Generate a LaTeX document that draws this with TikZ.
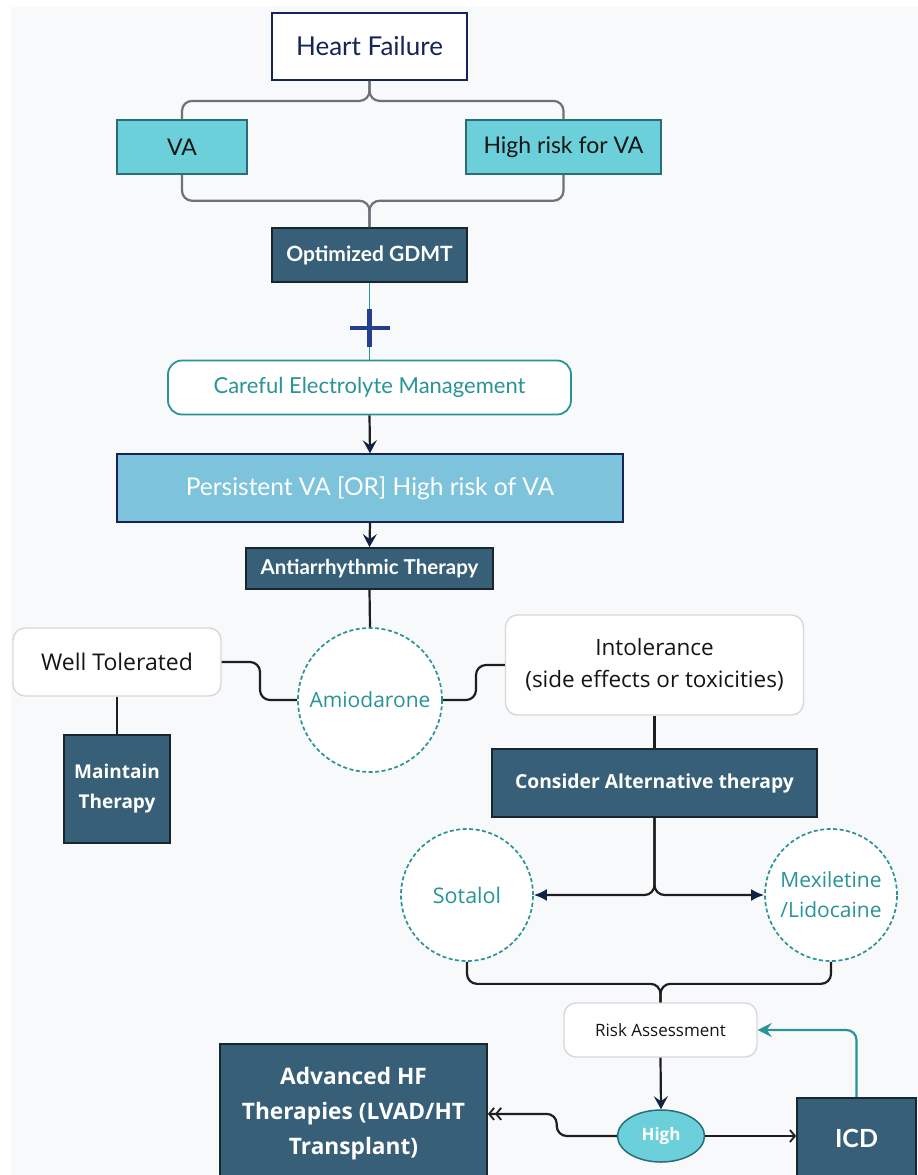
\documentclass[tikz,border=0pt]{standalone}
\usepackage{fontspec}
\setmainfont{Lato}
\newfontfamily\osans{Open Sans}
\usetikzlibrary{arrows.meta,shapes.geometric}
\definecolor{bg}{HTML}{F8F9FB}
\definecolor{navy}{HTML}{16245A}
\definecolor{turq}{HTML}{6CD0DA}
\definecolor{turqdk}{HTML}{2B6C7A}
\definecolor{slate}{HTML}{375F77}
\definecolor{slatedk}{HTML}{1A262E}
\definecolor{lblue}{HTML}{7EC3DC}
\definecolor{tealc}{HTML}{2A9396}
\definecolor{plusc}{HTML}{243F8E}
\definecolor{linegray}{HTML}{6E7178}
\definecolor{lineblk}{HTML}{1E1E1E}
\definecolor{arrnavy}{HTML}{0F2444}
\definecolor{boxgray}{HTML}{D8D8DB}
\definecolor{txtblk}{HTML}{151515}
\newcommand{\fs}[2]{\fontsize{#1}{#2}\selectfont}
\begin{document}
\begin{tikzpicture}[x=1pt,y=-1pt,
  base/.style={inner sep=0pt, align=center},
  hfbox/.style={base, draw=navy, fill=white, line width=1.8pt, text=navy, font=\fs{26}{30}},
  turqbox/.style={base, fill=turq, draw=turqdk, line width=1.5pt, text=txtblk, font=\fs{23}{27}},
  slatebox/.style={base, fill=slate, draw=slatedk, line width=1.8pt, text=white},
  lightbox/.style={base, fill=lblue, draw=navy, line width=1.5pt, text=white, font=\fs{24.5}{28}},
  graybox/.style={base, fill=white, draw=boxgray, line width=1.4pt, rounded corners=12pt, text=txtblk},
  tealbox/.style={base, fill=white, draw=tealc, line width=1.8pt, rounded corners=14pt, text=tealc, font=\fs{22}{26}},
  dcircle/.style={base, circle, draw=tealc, fill=white, line width=1.7pt, dash pattern=on 4pt off 2.5pt, text=tealc, font=\osans\fs{21}{30}},
  graycon/.style={draw=linegray, line width=2.2pt, rounded corners=10pt},
  conn/.style={draw=lineblk, line width=2.2pt, rounded corners=10pt},
  navyarrow/.style={conn, -{Stealth[length=13pt,width=14pt,inset=5pt,color=arrnavy]}},
  filledarrow/.style={conn, -{Latex[length=13pt,width=12pt,color=arrnavy]}},
  barb/.style={conn, -{Straight Barb[length=5pt,width=12pt,line width=1.8pt]}},
  dblbarb/.style={conn, -{Straight Barb[length=5pt,width=12pt,line width=1.8pt]Straight Barb[length=5pt,width=12pt,line width=1.8pt]}},
  tealarrow/.style={draw=tealc, line width=2.2pt, rounded corners=10pt, -{Stealth[length=14pt,width=14pt,inset=5pt]}}
]
\clip (0,0) rectangle (918,1175);
\fill[white] (0,0) rectangle (918,1175);
\fill[bg] (11,7) rectangle (918,1175);

% nodes
\node[hfbox, minimum width=195pt, minimum height=67pt] (hf) at (369.5,46.5) {Heart Failure};
\node[turqbox, minimum width=130pt, minimum height=54pt] (va) at (182,147) {VA};
\node[turqbox, minimum width=195pt, minimum height=54pt] (hr) at (563.5,147) {High risk for VA};
\node[slatebox, minimum width=195pt, minimum height=54pt, font=\bfseries\fs{21}{25}] (gdmt) at (369.5,255) {Optimized GDMT};
\node[tealbox, minimum width=403pt, minimum height=54pt] (careful) at (369.5,387.5) {Careful Electrolyte Management};
\node[lightbox, minimum width=506pt, minimum height=68pt] (pers) at (370,488) {Persistent VA [OR] High risk of VA};
\node[slatebox, minimum width=247pt, minimum height=41pt, font=\bfseries\fs{20.5}{24}] (anti) at (369.5,568.5) {Antiarrhythmic Therapy};
\node[dcircle, minimum size=144pt] (amio) at (370,700) {Amiodarone};
\node[graybox, minimum width=208pt, minimum height=68pt, font=\osans\fs{23}{27}] (well) at (117,662) {Well Tolerated};
\node[slatebox, minimum width=106pt, minimum height=108pt, font=\osans\bfseries\fs{19}{30}] (maint) at (117,789) {Maintain\\Therapy};
\node[graybox, minimum width=298pt, minimum height=100pt, font=\osans\fs{22.5}{32}] (intol) at (654.5,665) {Intolerance\\(side effects or toxicities)};
\node[slatebox, minimum width=325pt, minimum height=68pt, font=\osans\bfseries\fs{19.3}{23}] (consider) at (654.5,783) {Consider Alternative therapy};
\node[dcircle, minimum size=132pt, font=\osans\fs{21.5}{30}] (sot) at (467,895) {Sotalol};
\node[dcircle, minimum size=132pt] (mex) at (831,895) {Mexiletine\\/Lidocaine};
\node[graybox, minimum width=193pt, minimum height=54pt, font=\osans\fs{17}{21}] (risk) at (660.5,1030) {Risk Assessment};
\node[base, ellipse, fill=turq, draw=turqdk, line width=1.5pt, minimum width=87pt, minimum height=52pt, text=white, font=\osans\bfseries\fs{17}{21}] (high) at (661,1136) {High};
\node[slatebox, anchor=north, minimum width=119pt, minimum height=82pt, font=\bfseries\fs{25}{29}] (icd) at (856.5,1097) {ICD};
\node[slatebox, anchor=north, minimum width=267pt, minimum height=140pt, font=\osans\bfseries\fs{22.7}{35}] (adv) at (353.5,1043) {Advanced HF\\Therapies (LVAD/HT\\Transplant)};

% connectors
\draw[graycon] (hf.south) -- ++(0,20) -| (va.north);
\draw[graycon] (hf.south) -- ++(0,20) -| (hr.north);
\draw[graycon] (va.south) -- ++(0,26) -| (gdmt.north);
\draw[graycon] (hr.south) -- ++(0,26) -| (gdmt.north);
\draw[draw=tealc, line width=1.8pt] (gdmt.south) -- (careful.north);
\coordinate (plus) at (369.5,328);
\draw[plusc, line width=4.5pt] (plus) ++(0,-19) -- ++(0,38) (plus) ++(-20,0) -- ++(40,0);
\draw[navyarrow] (careful.south) -- (pers.north);
\draw[navyarrow] (pers.south) -- (anti.north);
\draw[conn] (anti.south) -- (amio.north);
\draw[conn] (well.east) -- (260,662) -- (260,700) -- (amio.west);
\draw[conn] (well.south) -- (maint.north);
\draw[conn] (amio.east) -- (476,700) -- (476,665) -- (intol.west);
\draw[conn] (intol.south) -- (consider.north);
\draw[filledarrow] (consider.south) |- (sot.east);
\draw[filledarrow] (consider.south) |- (mex.west);
\draw[conn] (sot.south) -- ++(0,22) -| (risk.north);
\draw[conn] (mex.south) -- ++(0,22) -| (risk.north);
\draw[navyarrow] (risk.south) -- (high.north);
\draw[dblbarb] (high.west) -- ++(-60,0) |- (adv.east);
\draw[barb] (high.east) -- (high.east -| icd.west);
\draw[tealarrow] (icd.north) |- (risk.east);
\end{tikzpicture}
\end{document}
